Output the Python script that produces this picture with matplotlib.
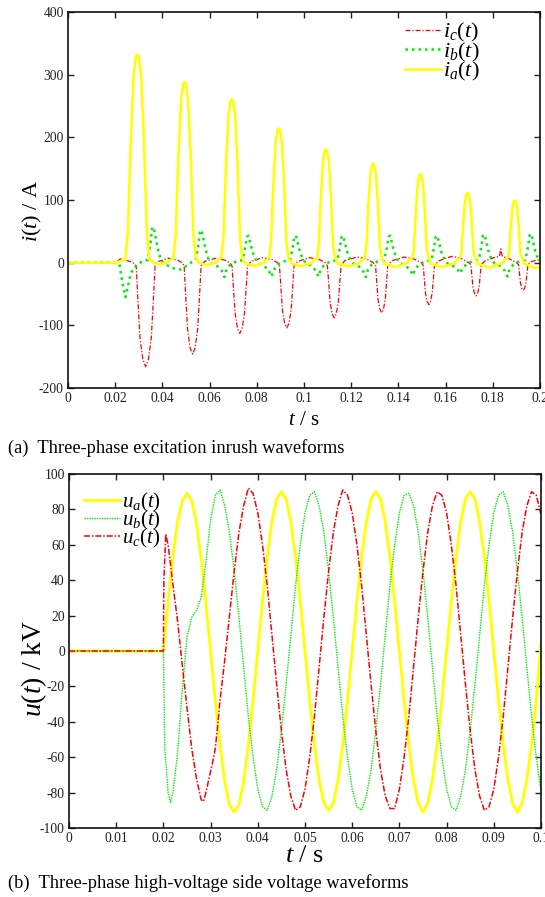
import numpy as np
import matplotlib
matplotlib.use("Agg")
import matplotlib.pyplot as plt

plt.rcParams['font.family'] = ['Liberation Serif', 'DejaVu Serif']
plt.rcParams['mathtext.fontset'] = 'custom'
plt.rcParams['mathtext.rm'] = 'Liberation Serif'
plt.rcParams['mathtext.it'] = 'Liberation Serif:italic'
plt.rcParams['axes.unicode_minus'] = False

# ---------------- (a) inrush currents (time in ms, current in A) ----------------
ia_t = [0, 20.3, 22.0, 23.5,
        24.4, 25.4, 26.65, 27.8, 28.8, 29.4, 30.0, 31.0, 32.15, 33.4, 34.4,
        35.6, 38.7, 42.2, 43.7,
        44.7, 45.64, 46.82, 47.9, 48.84, 49.4, 49.96, 50.9, 51.99, 53.16, 54.1,
        55.3, 58.7, 62.5, 64.0,
        65.0, 65.88, 66.98, 67.99, 68.87, 69.4, 69.93, 70.81, 71.82, 72.92, 73.8,
        75.0, 78.7, 82.7, 84.2,
        85.2, 86.02, 87.05, 87.99, 88.81, 89.3, 89.79, 90.61, 91.56, 92.58, 93.4,
        94.6, 98.6, 103.0, 104.5,
        105.5, 106.26, 107.21, 108.08, 108.84, 109.3, 109.76, 110.52, 111.39, 112.34, 113.1,
        114.3, 118.6, 123.2, 124.7,
        125.7, 126.42, 127.32, 128.15, 128.87, 129.3, 129.73, 130.45, 131.28, 132.18, 132.9,
        134.1, 138.6, 143.4, 144.9,
        145.9, 146.58, 147.43, 148.21, 148.89, 149.3, 149.71, 150.39, 151.17, 152.02, 152.7,
        153.9, 158.6, 163.6, 165.1,
        166.1, 166.74, 167.54, 168.28, 168.92, 169.3, 169.68, 170.32, 171.06, 171.86, 172.5,
        173.7, 178.6, 183.8, 185.3,
        186.3, 186.9, 187.65, 188.34, 188.94, 189.3, 189.66, 190.26, 190.95, 191.7, 192.3,
        193.5, 197.5, 200.0]
ia_v = [0, 0, 2, 5,
        8, 50, 199, 299, 329, 332, 329, 299, 199, 50, 8,
        1, -3, 1, 5,
        8, 43, 173, 259, 285, 288, 285, 259, 173, 43, 8,
        0, -4, 0, 5,
        8, 39, 157, 235, 258, 261, 258, 235, 157, 39, 8,
        -1, -5, -1, 5,
        8, 32, 128, 193, 212, 214, 212, 193, 128, 32, 8,
        -1, -6, -1, 5,
        8, 27, 109, 163, 179, 181, 179, 163, 109, 27, 8,
        -1, -6, -1, 5,
        8, 24, 95, 142, 156, 158, 156, 142, 95, 24, 8,
        -2, -7, -1, 5,
        8, 21, 85, 127, 140, 141, 140, 127, 85, 21, 8,
        -2, -7, -1, 5,
        8, 17, 67, 100, 110, 111, 110, 100, 67, 17, 8,
        -2, -8, -1, 5,
        8, 15, 59, 89, 98, 99, 98, 89, 59, 15, 8,
        -2, -8, -7]

ib_t = [0, 20.5, 21.8, 23.2, 24.4, 25.4, 26.5, 28.0, 29.5, 31.0, 32.8,
        33.8, 34.9, 35.6, 36.3, 37.0, 38.0, 39.2, 40.5,
        43.0, 45.5, 47.5, 49.5, 51.5,
        54.1, 55.2, 55.9, 56.6, 57.3, 58.3, 59.5, 60.8,
        62.8, 65.0, 66.3, 67.1, 68.8, 71.3,
        74.0, 75.1, 75.8, 76.5, 77.2, 78.2, 79.4, 80.7,
        82.8, 85.0, 86.3, 87.1, 88.8, 91.3,
        94.1, 95.2, 95.9, 96.6, 97.3, 98.3, 99.5, 100.8,
        102.7, 104.9, 106.2, 107.0, 108.7, 111.2,
        114.1, 115.2, 115.9, 116.6, 117.3, 118.3, 119.5, 120.8,
        122.7, 124.9, 126.2, 127.0, 128.7, 131.2,
        134.0, 135.1, 135.8, 136.5, 137.2, 138.2, 139.4, 140.7,
        142.7, 144.9, 146.2, 147.0, 148.7, 151.2,
        154.0, 155.1, 155.8, 156.5, 157.2, 158.2, 159.4, 160.7,
        162.7, 164.9, 166.2, 167.0, 168.7, 171.2,
        174.0, 175.1, 175.8, 176.5, 177.2, 178.2, 179.4, 180.7,
        182.7, 184.9, 186.2, 187.0, 188.7, 191.2,
        193.8, 194.9, 195.6, 196.3, 197.0, 198.0, 199.2, 200.0]
ib_v = [0, 0, -3, -35, -55, -38, -18, -8, -3, 1, 4,
        4, 28, 54, 57, 43, 23, 6, -1,
        -6, -10, -11, -7, -1,
        4, 26, 49, 52, 39, 21, 6, -1,
        -4, -12, -23, -12, -3, 2,
        4, 24, 41, 43, 32, 17, 6, -1,
        -4, -12, -22, -12, -3, 2,
        4, 24, 41, 43, 32, 17, 6, -1,
        -4, -12, -22, -12, -3, 2,
        4, 24, 41, 43, 32, 17, 6, -1,
        -4, -12, -23, -12, -3, 2,
        4, 24, 41, 43, 32, 17, 6, -1,
        -4, -11, -20, -11, -3, 2,
        4, 24, 41, 43, 32, 17, 6, -1,
        -4, -10, -17, -10, -3, 2,
        4, 25, 43, 45, 34, 18, 6, -1,
        -4, -12, -22, -12, -3, 2,
        4, 25, 44, 46, 35, 18, 6, 2]

ic_t = [0, 20.3, 22.2, 24.5, 27.0, 28.2,
        28.9, 29.5, 30.5, 31.7, 32.9, 34.1, 35.3, 36.3, 36.9,
        38.4, 42.5, 46.5, 48.3,
        49.2, 49.74, 50.64, 51.72, 52.8, 53.88, 54.96, 55.86, 56.4,
        57.9, 62.5, 66.5, 68.5,
        69.5, 69.99, 70.82, 71.81, 72.8, 73.79, 74.78, 75.61, 76.1,
        77.6, 82.5, 86.5, 88.7,
        89.6, 90.07, 90.84, 91.77, 92.7, 93.63, 94.56, 95.34, 95.8,
        97.3, 102.5, 106.5, 109.0,
        109.9, 110.34, 111.06, 111.93, 112.8, 113.67, 114.54, 115.27, 115.7,
        117.2, 122.5, 126.5, 129.4,
        130.3, 130.69, 131.34, 132.12, 132.9, 133.68, 134.46, 135.11, 135.5,
        137.2, 142.5, 146.5, 149.6,
        150.5, 150.86, 151.46, 152.18, 152.9, 153.62, 154.34, 154.94, 155.3,
        157.2, 162.5, 166.5, 169.8,
        170.7, 171.03, 171.58, 172.24, 172.9, 173.56, 174.22, 174.77, 175.1,
        176.7, 180.5, 182.8, 183.4, 184.0, 186.5, 190.1,
        190.9, 191.2, 191.7, 192.3, 192.9, 193.5, 194.1, 194.6, 194.9,
        196.6, 200.0]
ic_v = [0, 0, 6, 4, 1, -2,
        -5, -50, -120, -154, -166, -154, -120, -50, -5,
        2, 7, 4, 0,
        -5, -44, -105, -136, -146, -136, -105, -44, -5,
        2, 7, 4, 0,
        -5, -34, -81, -105, -113, -105, -81, -34, -5,
        2, 8, 5, 0,
        -5, -31, -75, -97, -104, -97, -75, -31, -5,
        2, 8, 5, 0,
        -5, -26, -63, -82, -88, -82, -63, -26, -5,
        3, 9, 6, 0,
        -4, -24, -58, -74, -80, -74, -58, -24, -4,
        3, 9, 6, 0,
        -4, -20, -48, -62, -67, -62, -48, -20, -4,
        3, 10, 7, 0,
        -3, -16, -38, -49, -53, -49, -38, -16, -3,
        3, 8, 10, 22, 10, 7, 0,
        -3, -13, -32, -41, -44, -41, -32, -13, -3,
        2, 5]

# ---------------- (b) HV side voltages (time in ms, voltage in kV) ----------------
ua_t = [0] + list(range(20, 101))
ua_v = [0,
        0, 28, 53, 73, 85, 89, 85, 72, 52, 27, 0, -28, -53, -74, -87, -91, -87, -74, -53, -28,
        0, 28, 53, 73, 86, 90, 86, 73, 53, 28, 0, -28, -53, -73, -86, -90, -86, -73, -53, -28,
        0, 28, 53, 73, 86, 90, 86, 73, 53, 28, 0, -28, -53, -73, -86, -91, -86, -73, -53, -28,
        0, 28, 53, 73, 86, 90, 86, 73, 53, 28, 0, -28, -53, -73, -86, -91, -86, -73, -53, -28,
        4]

ub_t = [0, 20, 20.3, 21, 21.5, 22, 23, 24, 25, 26, 27, 28, 29, 30, 31] + list(range(32, 101))
ub_v = [0, 0, -55, -80, -85.5, -80, -58, -22, 8, 19, 23, 30, 50, 74, 88,
        91, 82, 67, 45, 19, -9, -37, -60,
        -78, -88, -90, -82, -67, -45, -19, 9, 37, 60, 78, 88, 90, 82, 67, 45, 19, -9, -37, -60,
        -78, -88, -90, -82, -67, -45, -19, 9, 37, 60, 78, 88, 89, 82, 67, 45, 19, -9, -37, -60,
        -78, -88, -90, -82, -67, -45, -19, 9, 37, 60, 78, 88, 90, 82, 67, 45, 19, -9, -37, -60,
        -79]

uc_t = [0, 20, 20.1, 20.5, 21, 22, 23, 24, 25, 26, 27, 28, 28.5, 29, 30, 30.5, 31, 31.5,
        32, 33, 34, 35, 36, 37] + list(range(38, 101))
uc_v = [0, 0, 40, 66, 60, 38, 17, -8, -32, -55, -72, -84, -85, -80, -68, -62, -55, -42,
        -28, -5, 20, 45, 67, 82,
        92, 89,
        78, 60, 37, 9, -19, -45, -67, -82, -90, -88, -78, -60, -37, -9, 19, 45, 67, 82, 91, 88,
        78, 60, 37, 9, -19, -45, -67, -82, -89, -89, -78, -60, -37, -9, 19, 45, 67, 82, 90, 88,
        78, 60, 37, 9, -19, -45, -67, -82, -90, -88, -78, -60, -37, -9, 19, 45, 67, 82, 90, 88,
        77]

xt_a = [0, 0.02, 0.04, 0.06, 0.08, 0.1, 0.12, 0.14, 0.16, 0.18, 0.2]
xl_a = ['0', '0.02', '0.04', '0.06', '0.08', '0.1', '0.12', '0.14', '0.16', '0.18', '0.2']
yt_a = [-200, -100, 0, 100, 200, 300, 400]
xt_b = [0, 0.01, 0.02, 0.03, 0.04, 0.05, 0.06, 0.07, 0.08, 0.09, 0.1]
xl_b = ['0', '0.01', '0.02', '0.03', '0.04', '0.05', '0.06', '0.07', '0.08', '0.09', '0.1']
yt_b = [-100, -80, -60, -40, -20, 0, 20, 40, 60, 80, 100]

RED = '#ff0000'
GREEN = '#00ee00'
YELLOW = '#ffff00'

W, H = 545, 897
fig = plt.figure(figsize=(W / 100, H / 100), dpi=100)
ax1 = fig.add_axes([68 / W, 1 - 388 / H, 472 / W, 376 / H])
ax2 = fig.add_axes([69 / W, 1 - 828 / H, 472 / W, 354 / H])

ms = lambda a: np.asarray(a, dtype=float) / 1000.0

l_ic, = ax1.plot(ms(ic_t), ic_v, color=RED, lw=0.9, ls=(0, (4, 1.5, 1, 1.5)))
l_ib, = ax1.plot(ms(ib_t), ib_v, color=GREEN, lw=1.8, ls=(0, (1, 1.6)))
l_ia, = ax1.plot(ms(ia_t), ia_v, color=YELLOW, lw=1.8)

l_ua, = ax2.plot(ms(ua_t), ua_v, color=YELLOW, lw=2.0)
l_ub, = ax2.plot(ms(ub_t), ub_v, color=GREEN, lw=1.0, ls=(0, (1, 0.8)))
l_uc, = ax2.plot(ms(uc_t), uc_v, color=RED, lw=1.1, ls=(0, (4, 1.2, 1, 1.2)))

for ax in (ax1, ax2):
    ax.tick_params(direction='in', top=True, right=True, length=4, width=1,
                   labelsize=9.8, pad=3, colors='#222222')
    for sp in ax.spines.values():
        sp.set_linewidth(1.2)
        sp.set_color('#111111')

ax1.set_xlim(0, 0.2)
ax1.set_ylim(-200, 400)
ax1.set_xticks(xt_a)
ax1.set_xticklabels(xl_a)
ax1.set_yticks(yt_a)
ax1.set_yticklabels([str(v) for v in yt_a])
ax1.set_xlabel(r'$t$ / s', fontsize=15, labelpad=4)
ax1.set_ylabel(r'$i(t)$ / A', fontsize=16)
ax1.yaxis.set_label_coords(-0.05, 0.47)

ax2.set_xlim(0, 0.1)
ax2.set_ylim(-100, 100)
ax2.set_xticks(xt_b)
ax2.set_xticklabels(xl_b)
ax2.set_yticks(yt_b)
ax2.set_yticklabels([str(v) for v in yt_b])
ax2.set_xlabel(r'$t$ / s', fontsize=19, labelpad=0)
ax2.set_ylabel(r'$u(t)$ / kV', fontsize=20)
ax2.yaxis.set_label_coords(-0.042, 0.45)

leg1 = ax1.legend([l_ic, l_ib, l_ia], [r'$i_c(t)$', r'$i_b(t)$', r'$i_a(t)$'],
                  loc='upper left', bbox_to_anchor=((405 - 68) / 472, 1 - (21 - 12) / 376),
                  frameon=False, fontsize=16, handlelength=1.6, handletextpad=0.1,
                  labelspacing=-0.16, borderpad=0, borderaxespad=0)
leg2 = ax2.legend([l_ua, l_ub, l_uc], [r'$u_a(t)$', r'$u_b(t)$', r'$u_c(t)$'],
                  loc='upper left', bbox_to_anchor=((84 - 69) / 472, 1 - (491 - 474) / 354),
                  frameon=False, fontsize=15, handlelength=1.73, handletextpad=0.1,
                  labelspacing=-0.24, borderpad=0, borderaxespad=0)

fig.text(8 / W, 1 - 448 / H, '(a)  Three-phase excitation inrush waveforms',
         fontsize=13.3, va='center', ha='left')
fig.text(8 / W, 1 - 883 / H, '(b)  Three-phase high-voltage side voltage waveforms',
         fontsize=13.3, va='center', ha='left')

fig.savefig('out.png', dpi=100, facecolor='white')
